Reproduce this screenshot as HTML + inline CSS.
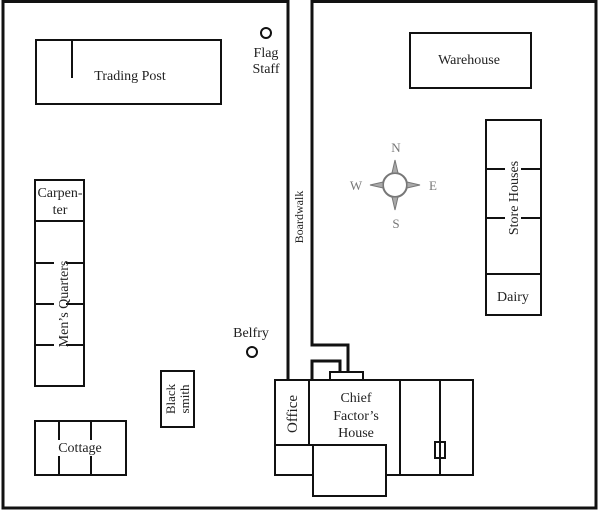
<!DOCTYPE html>
<html><head><style>body{margin:0;background:#fff}svg{display:block}</style></head><body>
<svg width="600" height="513" xmlns="http://www.w3.org/2000/svg" font-family="Liberation Serif, serif" fill="none" stroke="#111">
<g stroke-width="3">
<polyline points="3,0 3,508 596,508 596,0"/>
<line x1="3" y1="1.5" x2="288" y2="1.5"/>
<line x1="311" y1="1.5" x2="596" y2="1.5"/>
<line x1="288" y1="0" x2="288" y2="380"/>
<polyline points="312,0 312,345 348,345 348,372"/>
<polyline points="312,380 312,361 340,361 340,372"/>
</g>
<g stroke-width="2">
<rect x="36" y="40" width="185" height="64"/>
<line x1="72" y1="40" x2="72" y2="78"/>
<circle cx="266" cy="33" r="5"/>
<circle cx="252" cy="352" r="5"/>
<rect x="35" y="180" width="49" height="206"/>
<line x1="35" y1="221" x2="84" y2="221"/>
<line x1="35" y1="263" x2="54" y2="263"/><line x1="66" y1="263" x2="84" y2="263"/>
<line x1="35" y1="304" x2="54" y2="304"/><line x1="66" y1="304" x2="84" y2="304"/>
<line x1="35" y1="345" x2="54" y2="345"/><line x1="66" y1="345" x2="84" y2="345"/>
<rect x="161" y="371" width="33" height="56"/>
<rect x="35" y="421" width="91" height="54"/>
<line x1="59" y1="421" x2="59" y2="440"/><line x1="59" y1="456" x2="59" y2="475"/>
<line x1="91" y1="421" x2="91" y2="440"/><line x1="91" y1="456" x2="91" y2="475"/>
<rect x="410" y="33" width="121" height="55"/>
<rect x="486" y="120" width="55" height="195"/>
<line x1="486" y1="169" x2="505" y2="169"/><line x1="521" y1="169" x2="541" y2="169"/>
<line x1="486" y1="218" x2="505" y2="218"/><line x1="521" y1="218" x2="541" y2="218"/>
<line x1="486" y1="274" x2="541" y2="274"/>
<rect x="330" y="372" width="33" height="8"/>
<rect x="275" y="380" width="198" height="95"/>
<line x1="309" y1="380" x2="309" y2="445"/>
<line x1="275" y1="445" x2="313" y2="445"/>
<rect x="313" y="445" width="73" height="51" fill="#fff"/>
<line x1="400" y1="380" x2="400" y2="475"/>
<line x1="440" y1="380" x2="440" y2="475"/>
<rect x="435" y="442" width="10" height="16"/>
</g>
<g stroke="#777" stroke-width="2">
<circle cx="395" cy="185" r="12"/>
<polygon points="395,160 392,173 398,173" fill="#aaa" stroke-width="1"/>
<polygon points="395,210 392,197 398,197" fill="#aaa" stroke-width="1"/>
<polygon points="370,185 383,182 383,188" fill="#aaa" stroke-width="1"/>
<polygon points="420,185 407,182 407,188" fill="#aaa" stroke-width="1"/>
</g>
<g fill="#777" stroke="none" font-size="13" text-anchor="middle">
<text x="396" y="152">N</text><text x="396" y="228">S</text><text x="356" y="190">W</text><text x="433" y="190">E</text>
</g>
<g fill="#222" stroke="none" font-size="14" text-anchor="middle">
<text x="130" y="80">Trading Post</text>
<text x="266" y="57">Flag</text><text x="266" y="73">Staff</text>
<text x="251" y="337">Belfry</text>
<text x="469" y="64">Warehouse</text>
<text x="513" y="301">Dairy</text>
<text x="60" y="197">Carpen-</text><text x="60" y="214">ter</text>
<text x="80" y="452">Cottage</text>
<text x="356" y="402">Chief</text><text x="356" y="420">Factor’s</text><text x="356" y="437">House</text>
<text transform="translate(68,304) rotate(-90)">Men’s Quarters</text>
<text transform="translate(518,198) rotate(-90)">Store Houses</text>
<text transform="translate(297,414) rotate(-90)" font-size="15">Office</text>
<text transform="translate(175,399) rotate(-90)" font-size="13">Black</text>
<text transform="translate(189,399) rotate(-90)" font-size="13">smith</text>
<text transform="translate(303,217) rotate(-90)" font-size="12">Boardwalk</text>
</g>
</svg>
</body></html>
